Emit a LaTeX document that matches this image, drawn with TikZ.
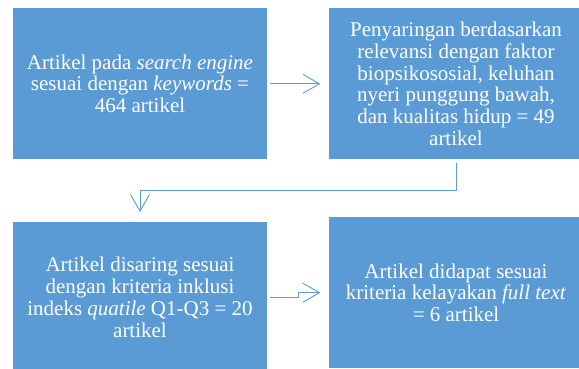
\documentclass[tikz,border=0pt]{standalone}
\usepackage{fontspec}
\setmainfont{Liberation Serif}
\usepackage{tikz}
\usetikzlibrary{arrows.meta, positioning}
\definecolor{boxblue}{HTML}{5B9BD5}
\tikzset{
  stepbox/.style  = {rectangle, fill=boxblue, text=white, align=center,
                     minimum width=254pt, minimum height=151pt, inner sep=0pt,
                     font=\fontsize{21}{21.7}\selectfont},
  flowarr/.style  = {draw=boxblue, line width=0.9pt,
                     -{Straight Barb[length=16.5pt, width=19pt, line width=0.9pt]}},
}

\begin{document}
\begin{tikzpicture}[x=1pt, y=-1pt]
  \useasboundingbox (0,0) rectangle (579,368);
  \clip (0,0) rectangle (579,368);
  \node[stepbox] (cari) at (140,83.8)
    {Artikel pada \textit{search engine}\\ sesuai dengan \textit{keywords} =\\ 464 artikel};
  \node[stepbox] (relevan) at (456,83.8)
    {Penyaringan berdasarkan\\ relevansi dengan faktor\\ biopsikososial, keluhan\\ nyeri punggung bawah,\\ dan kualitas hidup = 49\\ artikel};
  \node[stepbox] (inklusi) at (140,297.3)
    {Artikel disaring sesuai\\ dengan kriteria inklusi\\ indeks \textit{quatile} Q1-Q3 = 20\\ artikel};
  \node[stepbox] (fulltext) at (456,292.7)
    {Artikel didapat sesuai\\ kriteria kelayakan \textit{full text}\\ = 6 artikel};
  % connectors
  \draw[flowarr, shorten <=3pt, shorten >=8.5pt] (cari.east) -- (relevan.west);
  \draw[flowarr, shorten <=3.4pt, shorten >=9.7pt] (relevan.south) -- ++(0,31.4) -| (inklusi.north);
  \draw[flowarr] ([xshift=3pt]inklusi.east) -- ([xshift=31pt]inklusi.east)
    |- ([xshift=-8.5pt]fulltext.west);
\end{tikzpicture}
\end{document}
